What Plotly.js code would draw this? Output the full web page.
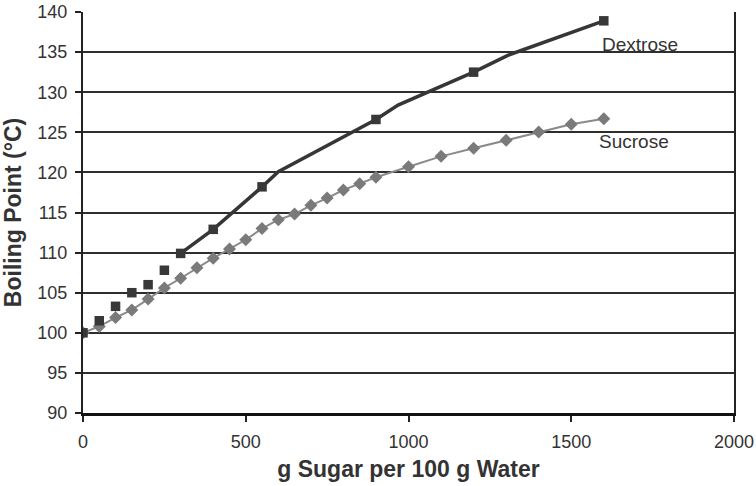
<!DOCTYPE html>
<html><head><meta charset="utf-8">
<script src="https://cdn.plot.ly/plotly-3.0.1.min.js"></script>
<style>body{margin:0;background:#fff}#c{width:756px;height:486px}</style>
</head><body><div id="c"></div>
<script>
// Dextrose measured points
const dextroseX = [0, 50, 100, 150, 200, 250, 300, 400, 550, 900, 1200, 1600];
const dextroseY = [100, 101.5, 103.3, 105.0, 106.0, 107.8, 109.9, 112.9, 118.2, 126.6, 132.5, 138.9];
// Dextrose trend line vertices (as drawn)
const dexLineX = [300, 400, 550, 600, 900, 968, 1200, 1305, 1600];
const dexLineY = [109.9, 112.9, 118.2, 120.1, 126.6, 128.4, 132.5, 134.6, 138.9];
// Sucrose points
const sucroseX = [0, 50, 100, 150, 200, 250, 300, 350, 400, 450, 500, 550, 600, 650, 700, 750, 800, 850, 900, 1000, 1100, 1200, 1300, 1400, 1500, 1600];
const sucroseY = [100, 100.8, 101.9, 102.85, 104.2, 105.6, 106.8, 108.1, 109.3, 110.45, 111.6, 113.0, 114.1, 114.8, 115.9, 116.8, 117.8, 118.6, 119.4, 120.7, 122.0, 123.0, 124.0, 125.05, 126.0, 126.7];
const xTicks = [0, 500, 1000, 1500, 2000];
const yTicks = [90, 95, 100, 105, 110, 115, 120, 125, 130, 135, 140];

const traces = [
  {x: sucroseX, y: sucroseY, mode: 'lines+markers', name: 'Sucrose',
   line: {color: '#8a8a8a', width: 2},
   marker: {symbol: 'diamond', size: 10, color: '#7a7a7a'}},
  {x: dexLineX, y: dexLineY, mode: 'lines', name: 'Dextrose line', line: {color: '#363636', width: 3.5}},
  {x: dextroseX, y: dextroseY, mode: 'markers', name: 'Dextrose',
   marker: {symbol: 'square', size: 9.5, color: '#383838'}}
];

const layout = {
  width: 756, height: 486,
  margin: {l: 83, r: 22, t: 12, b: 73},
  showlegend: false,
  paper_bgcolor: '#fff', plot_bgcolor: '#fff',
  font: {family: 'Liberation Sans, Arial, sans-serif', color: '#333'},
  xaxis: {range: [0, 2000], tickvals: xTicks, ticktext: xTicks.map(String),
    showgrid: false, zeroline: false, showline: true, linecolor: '#111', linewidth: 3,
    ticks: 'outside', ticklen: 6, tickwidth: 2, tickcolor: '#222', ticklabelstandoff: 4,
    tickfont: {size: 18, color: '#333'},
    title: {text: '<b>g Sugar per 100 g Water</b>', font: {size: 23, color: '#333'}, standoff: 11}},
  yaxis: {range: [90, 140], tickvals: yTicks, ticktext: yTicks.map(String),
    showgrid: true, gridcolor: '#2e2e2e', gridwidth: 2, zeroline: false,
    showline: true, linecolor: '#222', linewidth: 2, mirror: true,
    ticks: 'outside', ticklen: 6, tickwidth: 2, tickcolor: '#222', ticklabelstandoff: 4,
    tickfont: {size: 18, color: '#333'},
    title: {text: '<b>Boiling Point (°C)</b>', font: {size: 23, color: '#333'}, standoff: 9}},
  annotations: [
    {x: 1587, y: 135.9, xref: 'x', yref: 'y', text: 'Dextrose', showarrow: false, xanchor: 'left', yanchor: 'middle', font: {size: 19, color: '#333'}},
    {x: 1580, y: 123.9, xref: 'x', yref: 'y', text: 'Sucrose', showarrow: false, xanchor: 'left', yanchor: 'middle', font: {size: 19, color: '#333'}}
  ]
};
Plotly.newPlot('c', traces, layout, {displayModeBar: false, staticPlot: true});
</script></body></html>
